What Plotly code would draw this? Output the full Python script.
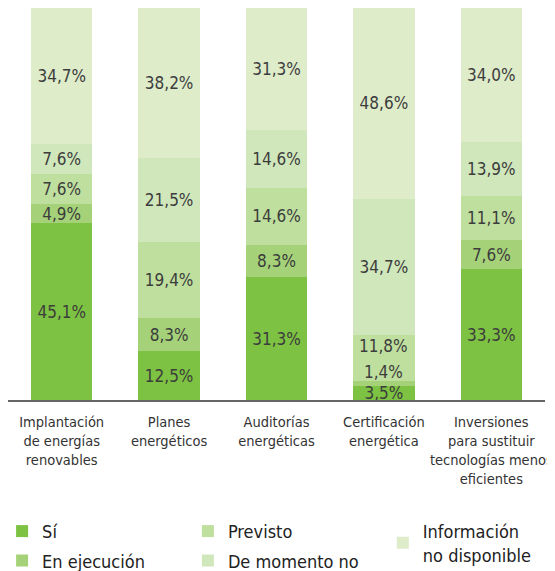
import plotly.graph_objects as go

categorias = ["Implantación<br>de energías<br>renovables", "Planes<br>energéticos",
              "Auditorías<br>energéticas", "Certificación<br>energética",
              "Inversiones<br>para sustituir<br>tecnologías menos<br>eficientes"]

si = [45.1, 12.5, 31.3, 3.5, 33.3]
en_ejecucion = [4.9, 8.3, 8.3, 1.4, 7.6]
previsto = [7.6, 19.4, 14.6, 11.8, 11.1]
de_momento_no = [7.6, 21.5, 14.6, 34.7, 13.9]
info_no_disp = [34.7, 38.2, 31.3, 48.6, 34.0]

series = [
    ("Sí", si, "#7dc242", "legend"),
    ("En ejecución", en_ejecucion, "#a5d279", "legend"),
    ("Previsto", previsto, "#bfdf9e", "legend2"),
    ("De momento no", de_momento_no, "#d0e7bb", "legend2"),
    ("Información<br>no disponible", info_no_disp, "#deecca", "legend3"),
]

FONT = "DejaVu Sans Condensed, Liberation Sans Narrow, sans-serif"
TXT = dict(family=FONT, size=17, color="#3c3c3c")

def fmt(v):
    return f"{v:.1f}".replace(".", ",") + "%"

fig = go.Figure()
for nombre, vals, color, leg in series:
    textos = [fmt(v) for v in vals]
    if nombre in ("En ejecución", "Previsto"):
        textos[3] = ""  # Certificación: se colocan aparte
    fig.add_trace(go.Bar(
        x=categorias, y=vals, name=nombre, marker=dict(color=color, line=dict(width=0)),
        text=textos, textposition="inside", insidetextanchor="middle",
        textangle=0, constraintext="none", textfont=TXT,
        legend=leg, legendgroup=nombre, hoverinfo="skip",
    ))

# etiquetas de los segmentos pequeños de Certificación
base = si[3] + en_ejecucion[3]
fig.add_annotation(x=categorias[3], y=base, text=fmt(en_ejecucion[3]),
                   showarrow=False, yanchor="bottom", yshift=-3, font=TXT)
fig.add_annotation(x=categorias[3], y=base + previsto[3] / 2, text=fmt(previsto[3]),
                   showarrow=False, yanchor="middle", yshift=12, font=TXT)

leg_common = dict(orientation="v", yanchor="top", xanchor="left", bgcolor="rgba(0,0,0,0)",
                  font=dict(family=FONT, size=18, color="#222222"), itemwidth=30,
                  tracegroupgap=3, traceorder="grouped", y=-0.288)

# la página añade 8 px de margen al cuerpo: la figura ocupa el resto de la ventana
fig.update_layout(
    width=547, height=563,
    margin=dict(l=0, r=10, t=0, b=171, autoexpand=False),
    barmode="stack", bargap=0.43,
    plot_bgcolor="white", paper_bgcolor="white",
    font=dict(family=FONT, size=16, color="#333333"),
    xaxis=dict(showline=True, linecolor="#666666", linewidth=2, ticks="",
               tickangle=0, automargin=False, ticklabelstandoff=8,
               tickfont=dict(family=FONT, size=14.5, color="#333333"),
               range=[-0.5, 4.5]),
    yaxis=dict(range=[0, 100], visible=False),
    legend=dict(x=-0.011, **leg_common),
    legend2=dict(x=0.335, **leg_common),
    legend3=dict(x=0.698, **leg_common),
)

fig.write_html("out.html")
